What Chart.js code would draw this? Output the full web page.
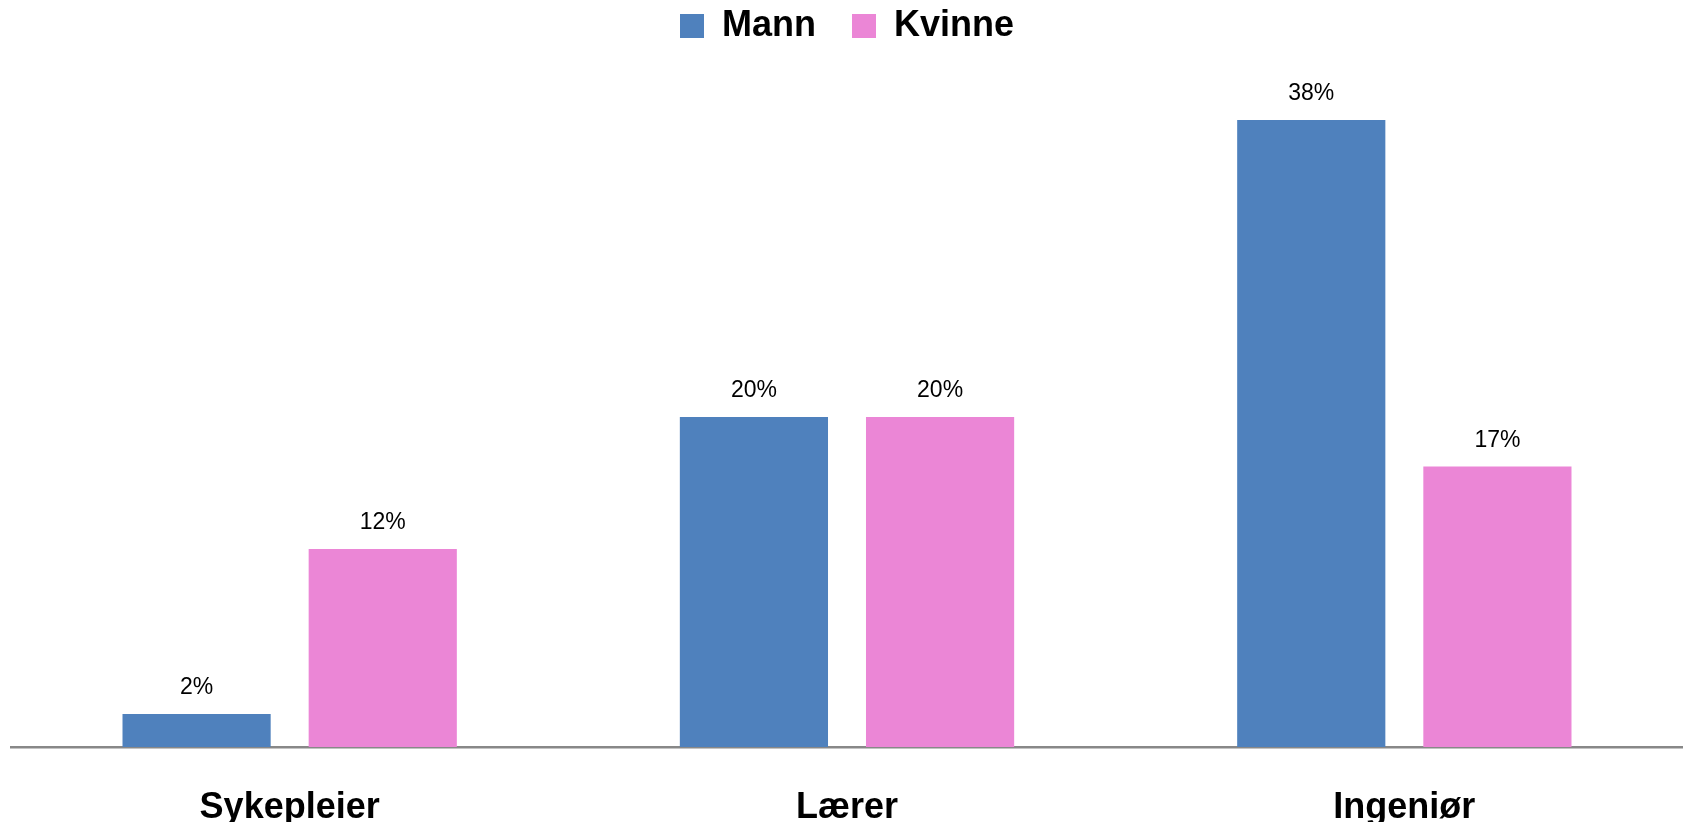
<!DOCTYPE html>
<html>
<head>
<meta charset="utf-8">
<script src="https://cdn.jsdelivr.net/npm/chart.js@4/dist/chart.umd.min.js"></script>
<style>
  html,body{margin:0;padding:0;background:#fff;overflow:hidden;}
  #wrap{width:1683px;height:822px;position:relative;}
</style>
</head>
<body>
<div id="wrap"><canvas id="chart"></canvas></div>
<script>
// ====== DATA ======
const CATEGORIES = ['Sykepleier', 'Lærer', 'Ingeniør'];
const MANN = [2, 20, 38];
const KVINNE = [12, 20, 17];

const FONT = '"Liberation Sans", Arial, sans-serif';

// draws "xx%" over every bar
const valueLabels = {
  id: 'valueLabels',
  afterDatasetsDraw(chart){
    const ctx = chart.ctx;
    ctx.save();
    ctx.font = '23px ' + FONT;
    ctx.fillStyle = '#000';
    ctx.textAlign = 'center';
    ctx.textBaseline = 'middle';
    chart.data.datasets.forEach((ds, i) => {
      chart.getDatasetMeta(i).data.forEach((bar, j) => {
        ctx.fillText(ds.data[j] + '%', bar.x, bar.y - 26);
      });
    });
    ctx.restore();
  }
};

new Chart(document.getElementById('chart'), {
  type: 'bar',
  data: {
    labels: CATEGORIES,
    datasets: [
      {label:'Mann', data:MANN, backgroundColor:'#4F81BD', categoryPercentage:0.668, barPercentage:0.796},
      {label:'Kvinne', data:KVINNE, backgroundColor:'#EB86D6', categoryPercentage:0.668, barPercentage:0.796}
    ]
  },
  options: {
    responsive: true,
    maintainAspectRatio: false,
    animation: false,
    layout: {padding:{left:11, right:0, top:-28, bottom:0}},
    plugins: {
      legend: {
        position: 'top',
        labels: {
          boxWidth: 24, boxHeight: 24, padding: 36,
          color: '#000',
          font: {family: FONT, size: 36, weight: 'bold'}
        }
      },
      tooltip: {enabled: false}
    },
    scales: {
      x: {
        grid: {display:false},
        border: {display:true, color:'#888', width:2.5},
        ticks: {color:'#000', padding:31, font:{family: FONT, size: 36, weight:'bold'}},
        afterFit(scale){ scale.height = 75; }
      },
      y: {display:false, min:0, max:42}
    }
  },
  plugins: [valueLabels]
});
</script>
</body>
</html>
